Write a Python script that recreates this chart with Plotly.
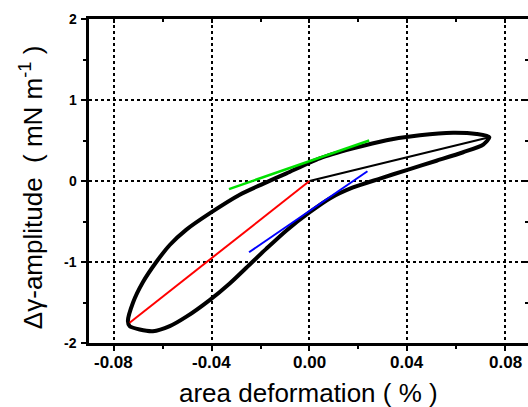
import plotly.graph_objects as go

# Hysteresis loop (area deformation %, delta-gamma amplitude mN/m)
loop_x = [0.0735, 0.0683, 0.0587, 0.0451, 0.0315, 0.0178, 0.0042, -0.0094, -0.0190,
          -0.0285, -0.0408, -0.0503, -0.0571, -0.0626, -0.0681, -0.0721,
          -0.0742, -0.0735, -0.0694, -0.0640, -0.0571, -0.0503, -0.0408, -0.0326,
          -0.0244, -0.0176, -0.0094, 0.0001, 0.0083, 0.0178, 0.0288, 0.0397, 0.0519,
          0.0628, 0.0710, 0.0735]
loop_y = [0.540, 0.580, 0.596, 0.566, 0.504, 0.402, 0.279, 0.095, -0.035,
          -0.170, -0.400, -0.600, -0.790, -1.000, -1.250, -1.500,
          -1.731, -1.792, -1.833, -1.854, -1.792, -1.675, -1.470, -1.265,
          -1.030, -0.835, -0.610, -0.385, -0.215, -0.080, 0.030, 0.135, 0.250,
          0.355, 0.450, 0.540]

chord_x = [0.0, 0.0735]
chord_y = [0.0, 0.540]
red_x = [-0.0735, 0.0]
red_y = [-1.75, 0.0]
green_x = [-0.0329, 0.0244]
green_y = [-0.10, 0.50]
blue_x = [-0.0247, 0.0237]
blue_y = [-0.88, 0.12]

x_ticks = [-0.08, -0.04, 0.0, 0.04, 0.08]
x_ticklabels = ["-0.08", "-0.04", "0.00", "0.04", "0.08"]
x_minor = [-0.06, -0.02, 0.02, 0.06]
y_ticks = [-2, -1, 0, 1, 2]
y_ticklabels = ["-2", "-1", "0", "1", "2"]
y_minor = [-1.5, -0.5, 0.5, 1.5]

x_title = "area deformation ( % )"
y_title = "\u0394\u03b3-amplitude  ( mN m<sup>-1</sup> )"

FONT = "Arial"

fig = go.Figure()
fig.add_trace(go.Scatter(x=loop_x, y=loop_y, mode="lines",
                         line=dict(color="black", width=4, shape="spline", smoothing=0.7)))
fig.add_trace(go.Scatter(x=chord_x, y=chord_y, mode="lines", line=dict(color="black", width=2)))
fig.add_trace(go.Scatter(x=red_x, y=red_y, mode="lines", line=dict(color="#ff0000", width=2)))
fig.add_trace(go.Scatter(x=green_x, y=green_y, mode="lines", line=dict(color="#00e000", width=2.5)))
fig.add_trace(go.Scatter(x=blue_x, y=blue_y, mode="lines", line=dict(color="#0000ff", width=2)))
# invisible trace to activate top/right mirror-tick axes
fig.add_trace(go.Scatter(x=[0], y=[0], xaxis="x2", yaxis="y2", mode="markers",
                         marker=dict(opacity=0), hoverinfo="skip"))

xr = [-0.0901, 0.0893]
yr = [-2, 2]

annotations = []
for v, t in zip(x_ticks, x_ticklabels):
    annotations.append(dict(text="<b>%s</b>" % t, xref="x", yref="paper", x=v, y=0,
                            xanchor="center", yanchor="middle", yshift=-19, showarrow=False,
                            font=dict(size=17, family=FONT, color="black")))
for v, t in zip(y_ticks, y_ticklabels):
    annotations.append(dict(text="<b>%s</b>" % t, xref="paper", yref="y", x=0, y=v,
                            xanchor="right", yanchor="middle", xshift=-10, showarrow=False,
                            font=dict(size=14, family=FONT, color="black")))
annotations.append(dict(text=x_title, xref="paper", yref="paper", x=0.5, y=0,
                        xanchor="center", yanchor="middle", yshift=-50, showarrow=False,
                        font=dict(size=26, family=FONT, color="black")))
annotations.append(dict(text=y_title, textangle=-90, xref="paper", yref="paper", x=0, y=0.478,
                        xanchor="center", yanchor="middle", xshift=-58, showarrow=False,
                        font=dict(size=26, family=FONT, color="black")))

fig.update_layout(
    width=528, height=407,
    margin=dict(l=89, r=0, t=19, b=64),
    paper_bgcolor="white", plot_bgcolor="white",
    showlegend=False,
    font=dict(family=FONT, color="black"),
    xaxis=dict(range=xr, tickvals=x_ticks, showticklabels=False,
               showline=True, linecolor="black", linewidth=3, mirror=True,
               ticks="outside", ticklen=5, tickwidth=2, tickcolor="black",
               showgrid=True, gridcolor="black", griddash="dot", gridwidth=1.7,
               zeroline=False,
               minor=dict(tickvals=x_minor, ticks="outside",
                          ticklen=3, tickwidth=1.5, tickcolor="black", showgrid=False)),
    yaxis=dict(range=yr, tickvals=y_ticks, showticklabels=False,
               showline=True, linecolor="black", linewidth=3, mirror=False,
               ticks="outside", ticklen=5, tickwidth=2, tickcolor="black",
               showgrid=True, gridcolor="black", griddash="dot", gridwidth=1.7,
               zeroline=False,
               minor=dict(tickvals=y_minor, ticks="outside",
                          ticklen=3, tickwidth=1.5, tickcolor="black", showgrid=False)),
    xaxis2=dict(range=xr, overlaying="x", side="top", showline=False, showgrid=False,
                zeroline=False, showticklabels=False, tickvals=x_ticks,
                ticks="inside", ticklen=4, tickwidth=2, tickcolor="black",
                minor=dict(tickvals=x_minor, ticks="inside",
                           ticklen=3, tickwidth=1.5, tickcolor="black")),
    yaxis2=dict(range=yr, overlaying="y", side="right", showline=False, showgrid=False,
                zeroline=False, showticklabels=False, tickvals=y_ticks,
                ticks="inside", ticklen=5, tickwidth=2, tickcolor="black",
                minor=dict(tickvals=y_minor, ticks="inside",
                           ticklen=3, tickwidth=1.5, tickcolor="black")),
    annotations=annotations,
)

fig.write_html("out.html")
